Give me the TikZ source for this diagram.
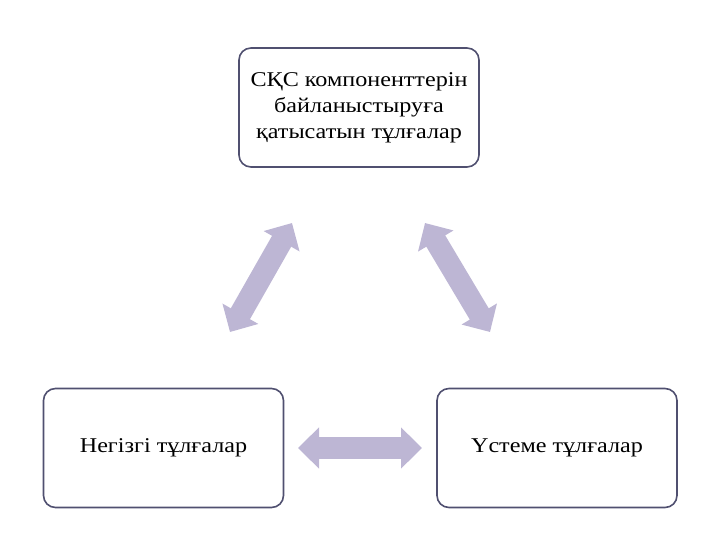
\documentclass[tikz,border=0pt]{standalone}
\usepackage{fontspec}
\setmainfont{Liberation Serif}[FakeStretch=1.15]
\usetikzlibrary{arrows.meta}
\definecolor{boxline}{RGB}{80,80,112}
\definecolor{lilac}{RGB}{189,182,212}

\begin{document}
\begin{tikzpicture}[x=1pt,y=-1pt,
  box/.style={draw=boxline,line width=1.6pt,rounded corners=12pt,fill=white,align=center,
    minimum width=240pt,minimum height=119pt,font=\fontsize{21}{26}\selectfont},
  link/.style={lilac,line width=22pt,
    {Triangle[length=21pt,width=40pt]}-{Triangle[length=21pt,width=40pt]}}]
  \useasboundingbox (0,0) rectangle (720,540);
  \node[box] (skc) at (359,107.5) {СҚС компоненттерін\\байланыстыруға\\қатысатын тұлғалар};
  \node[box] (negizgi) at (163.5,448) {Негізгі тұлғалар};
  \node[box] (ustem) at (557,448) {Үстеме тұлғалар};
  % arrow ends
  \coordinate (l1) at (230,332); \coordinate (l2) at (292,223);
  \coordinate (r1) at (425,223); \coordinate (r2) at (490,332);
  \coordinate (h1) at (298,448); \coordinate (h2) at (422,448);
  \draw[link] (l1)--(l2);
  \draw[link] (r1)--(r2);
  \draw[link] (h1)--(h2);
\end{tikzpicture}
\end{document}
